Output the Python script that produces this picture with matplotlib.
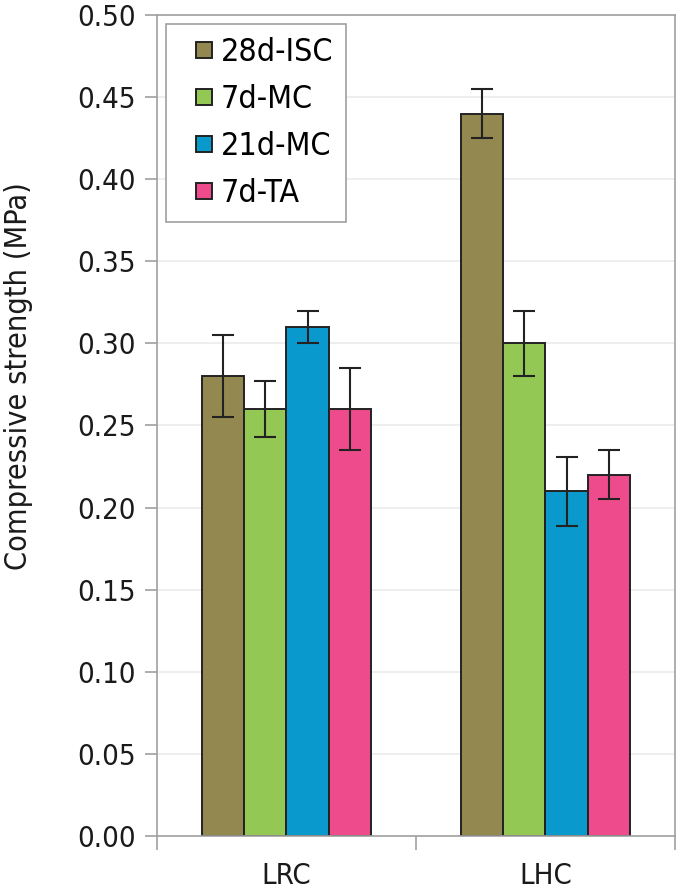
import numpy as np
import matplotlib.pyplot as plt
from matplotlib.lines import Line2D

plt.rcParams['font.family'] = ['DejaVu Sans']
plt.rcParams['font.stretch'] = 'condensed'

# data
categories = ['LRC', 'LHC']
series = ['28d-ISC', '7d-MC', '21d-MC', '7d-TA']
values = [[0.28, 0.44],
          [0.26, 0.30],
          [0.31, 0.21],
          [0.26, 0.22]]
errors = [[0.025, 0.015],
          [0.017, 0.020],
          [0.010, 0.021],
          [0.025, 0.015]]
colors = ['#928850', '#92c853', '#0a99cc', '#ee4b8d']

fig = plt.figure(figsize=(6.76, 8.94), dpi=100)
ax = fig.add_axes([0.2322, 0.0649, 0.7663, 0.9183])

x = np.arange(len(categories))
width = 0.65 / len(series)
for i, name in enumerate(series):
    pos = x - 0.325 + width * (i + 0.5)
    ax.bar(pos, values[i], width, color=colors[i], edgecolor='#222222',
           linewidth=1.4, zorder=2)
    ax.errorbar(pos, values[i], yerr=errors[i], fmt='none', ecolor='#222222',
                elinewidth=1.5, capsize=8, capthick=1.5, zorder=3)

ax.set_xlim(-0.5, 1.5)
ax.set_ylim(0, 0.5)
ax.set_yticks(np.arange(0, 0.501, 0.05))
ax.set_yticklabels(['%.2f' % v for v in np.arange(0, 0.501, 0.05)], fontsize=21)
ax.set_xticks(x)
ax.set_xticklabels(categories, fontsize=21)
ax.set_xticks([-0.5, 0.5, 1.5], minor=True)
ax.tick_params(axis='x', which='major', length=0, pad=19, labelcolor='#1a1a1a')
ax.tick_params(axis='x', which='minor', length=10, width=1.2, color='#a0a0a0', direction='out')
ax.tick_params(axis='y', length=9, width=1.2, color='#a0a0a0', pad=6, labelcolor='#1a1a1a')
ax.grid(axis='y', color='#ebebeb', linewidth=1.2, zorder=0)
ax.set_axisbelow(True)
for s in ax.spines.values():
    s.set_color('#a0a0a0')
    s.set_linewidth(1.2)

ax.set_ylabel('Compressive strength (MPa)', fontsize=22, color='#1a1a1a')
ax.yaxis.set_label_coords(-0.239, 0.56)

handles = [Line2D([], [], marker='s', markersize=12, markerfacecolor=c,
                  markeredgecolor='#222222', markeredgewidth=1.4, linestyle='none')
           for c in colors]
leg = ax.legend(handles, series, loc='upper left', bbox_to_anchor=(0.017, 0.989),
                borderaxespad=0, fontsize=23, fancybox=False, framealpha=1,
                edgecolor='#a0a0a0', handlelength=1.6, handletextpad=-0.28,
                labelspacing=0.5, borderpad=0.4, numpoints=1)
leg.get_frame().set_linewidth(1.2)

fig.savefig('out.png', dpi=100)
